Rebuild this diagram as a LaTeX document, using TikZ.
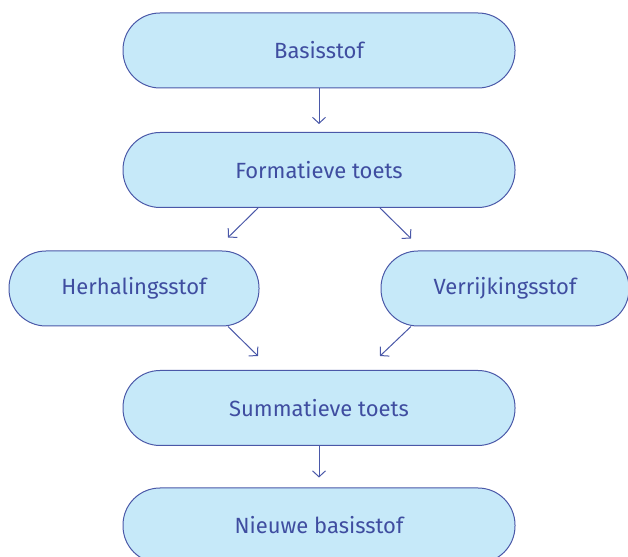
\documentclass[tikz,border=0pt]{standalone}
\usepackage{fontspec}
\setmainfont{Fira Sans}
\usetikzlibrary{arrows.meta,calc}
\definecolor{boxfill}{HTML}{C6E9F9}
\definecolor{boxline}{HTML}{4A58A8}
\definecolor{txt}{HTML}{3F4DA0}
\begin{document}
\begin{tikzpicture}[x=1pt,y=1pt,
  pill/.style={draw=boxline, fill=boxfill, line width=1pt, rounded corners=37pt,
    minimum height=75pt, text=txt, font=\fontsize{22}{25}\selectfont, inner sep=0pt},
  arr/.style={draw=boxline, line width=1pt, -{Straight Barb[length=6pt,width=13pt]}}]
\useasboundingbox (0,0) rectangle (628,556);
\node[pill, minimum width=392pt] (b) at (319,505.5) {Basisstof};
\node[pill, minimum width=392pt] (f) at (319,386) {Formatieve toets};
\node[pill, minimum width=250pt] (h) at (134,267.5) {Herhalingsstof};
\node[pill, minimum width=248pt] (v) at (505,267.5) {Verrijkingsstof};
\node[pill, minimum width=392pt] (s) at (319,148) {Summatieve toets};
\node[pill, minimum width=392pt] (n) at (319,30.5) {Nieuwe basisstof};
\draw[arr] (b.south) -- ([yshift=8pt]f.north);
\draw[arr] ([xshift=-61pt]f.south) -- ([xshift=94pt,yshift=13pt]h.north);
\draw[arr] ([xshift=61pt]f.south) -- ([xshift=-94pt,yshift=12pt]v.north);
\draw[arr] ([xshift=94pt]h.south) -- ([xshift=-61pt,yshift=14pt]s.north);
\draw[arr] ([xshift=-94pt]v.south) -- ([xshift=61pt,yshift=14pt]s.north);
\draw[arr] (s.south) -- ([yshift=10pt]n.north);
\end{tikzpicture}
\end{document}
